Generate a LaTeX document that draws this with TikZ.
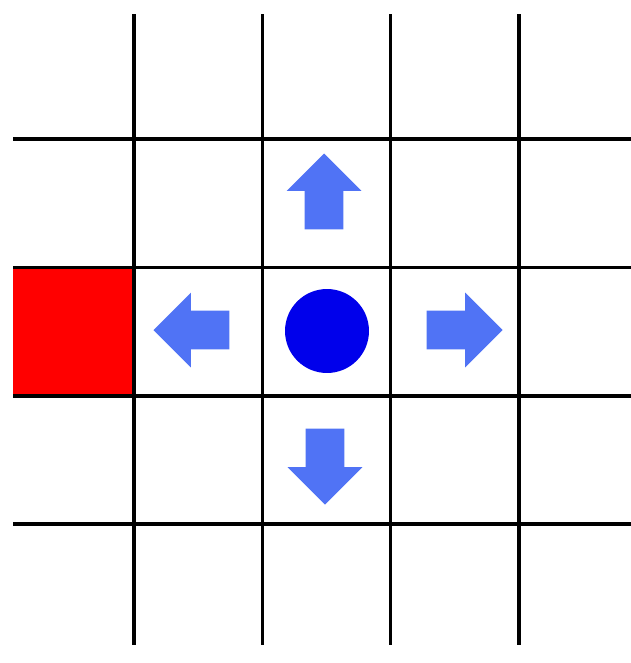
\documentclass[tikz,border=0pt]{standalone}
\usepackage{tikz}
\usetikzlibrary{shapes.arrows, positioning}
\definecolor{movecolor}{RGB}{80,115,245}
\definecolor{wallcolor}{RGB}{255,0,0}
\definecolor{agentcolor}{RGB}{0,0,235}
\tikzstyle{gridline} = [line width=1.8pt, black]
\tikzstyle{move} = [single arrow, draw=none, fill=movecolor, minimum width=1.48cm, minimum height=1.52cm, single arrow head extend=0.36cm, inner xsep=0pt, inner ysep=0.38cm, anchor=tip]
\tikzstyle{agent} = [circle, fill=agentcolor, minimum size=1.68cm, inner sep=0pt]
\tikzstyle{wall} = [rectangle, fill=wallcolor, minimum width=2.42cm, minimum height=2.58cm, inner sep=0pt]

\begin{document}
\begin{tikzpicture}[x=0.02cm, y=-0.02cm]
    \useasboundingbox (0,0) rectangle (631,663);

    % Obstaculo
    \node (wall) [wall] at (73.5,331.5) {};

    % Rejilla
    \foreach \x in {134,262.3,390.7,519}
        \draw [gridline] (\x,14) -- (\x,645);
    \foreach \y in {139,267.5,396,524}
        \draw [gridline] (13,\y) -- (631,\y);

    % Agente
    \node (agent) [agent] at (327,331) {};

    % Movimientos (colocados por la punta)
    \node (up) [move, rotate=90] at (324,153) {};
    \node (left) [move, rotate=180] at (153,330) {};
    \node (right) [move] at (503,330) {};
    \node (down) [move, rotate=270] at (325,505) {};

\end{tikzpicture}
\end{document}
